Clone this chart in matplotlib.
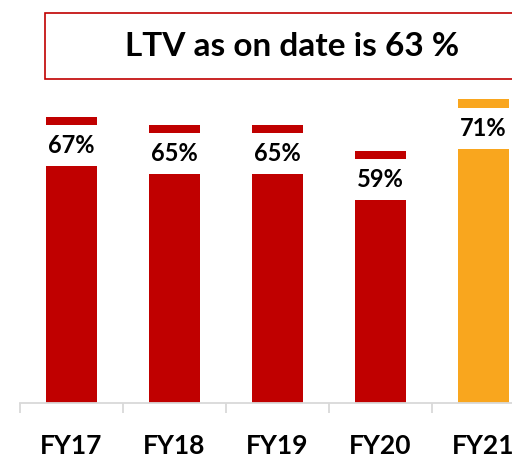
import matplotlib.pyplot as plt
from matplotlib.patches import Rectangle

years = ['FY17', 'FY18', 'FY19', 'FY20', 'FY21']
ltv = [67, 65, 65, 59, 71]
colors = ['#C00000', '#C00000', '#C00000', '#C00000', '#F9A61E']
title = 'LTV as on date is 63 %'

plt.rcParams['font.family'] = ['Lato', 'DejaVu Sans']

W, H = 512, 458
fig = plt.figure(figsize=(W / 100, H / 100), dpi=100)

# axes run past the right edge like the cropped original
ax = fig.add_axes([20 / W, 55 / H, 515 / W, 342 / H])
ax.set_xlim(-0.5, 4.5)
ax.set_ylim(0, 80)

cap = 1.9      # thin cap on top of each bar
gap = 9.6      # white space that holds the label
x = list(range(len(years)))
ax.bar(x, [v - cap - gap for v in ltv], width=0.49, color=colors)
ax.bar(x, [cap] * len(ltv), bottom=[v - cap for v in ltv], width=0.49, color=colors)

for i, v in enumerate(ltv):
    ax.text(i, v - cap - gap / 2, f'{v}%', ha='center', va='center',
            fontsize=17, fontweight='bold', color='black')

for s in ['top', 'right', 'left']:
    ax.spines[s].set_visible(False)
ax.spines['bottom'].set_color('#D9D9D9')
ax.spines['bottom'].set_linewidth(1.3)
ax.set_yticks([])

ax.set_xticks([i - 0.5 for i in range(len(years) + 1)])
ax.set_xticklabels([])
ax.tick_params(axis='x', which='major', length=7, width=1.3, color='#D9D9D9')
ax.set_xticks(x, minor=True)
ax.set_xticklabels(years, minor=True, fontsize=19, fontweight='bold')
ax.tick_params(axis='x', which='minor', length=0, pad=22)

# title box
fig.patches.append(Rectangle((45 / W, 1 - 79 / H), 500 / W, 66 / H,
                             transform=fig.transFigure, facecolor='white',
                             edgecolor='#C00000', linewidth=1.2))
fig.text(292 / W, 1 - 47 / H, title, ha='center', va='center',
         fontsize=24, fontweight='bold', color='black')

fig.savefig('out.png', dpi=100)
